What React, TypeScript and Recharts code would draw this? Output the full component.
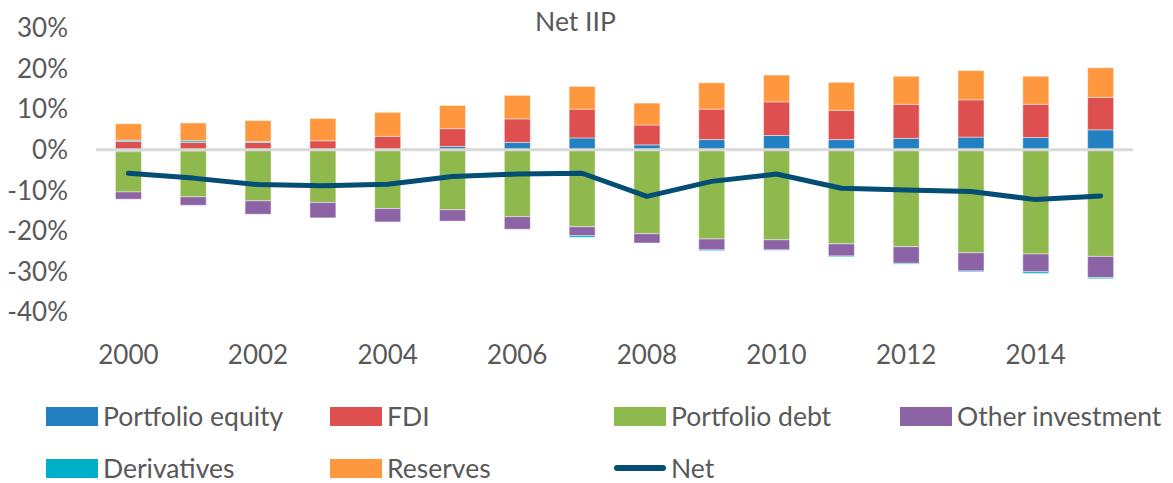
import { ComposedChart, Bar, Line, XAxis, YAxis, ReferenceLine } from "recharts";

const years = ["2000", "2001", "2002", "2003", "2004", "2005", "2006", "2007", "2008", "2009", "2010", "2011", "2012", "2013", "2014", "2015"];
const portfolioEquity = [-0.5, -0.3, 0, 0, 0, 0.8, 1.8, 2.9, 1.2, 2.5, 3.5, 2.5, 2.8, 3.1, 3.0, 4.9];
const fdi = [2.05, 1.8, 1.8, 2.2, 3.3, 4.4, 5.8, 7.1, 4.9, 7.5, 8.3, 7.2, 8.4, 9.2, 8.2, 8.0];
const portfolioDebt = [-9.9, -11.3, -12.6, -13.0, -14.5, -14.8, -16.5, -19.0, -20.7, -22.0, -22.2, -23.2, -23.9, -25.4, -25.7, -26.3];
const otherInvestment = [-1.8, -2.1, -3.3, -3.8, -3.3, -2.8, -3.1, -2.2, -2.3, -2.7, -2.5, -3.0, -4.1, -4.5, -4.4, -5.2];
const derivatives = [0.3, 0.4, 0.2, 0, 0, 0, 0, -0.4, 0, -0.2, -0.1, -0.2, -0.2, -0.2, -0.4, -0.3];
const reserves = [4.05, 4.4, 5.2, 5.5, 5.9, 5.7, 5.8, 5.6, 5.4, 6.5, 6.6, 6.9, 6.9, 7.2, 6.9, 7.3];
const net = [-5.8, -7.0, -8.6, -8.9, -8.5, -6.6, -6.0, -5.8, -11.5, -7.8, -6.0, -9.5, -9.9, -10.3, -12.3, -11.4];
const yTicks = [-40, -30, -20, -10, 0, 10, 20, 30];

const data = years.map((year, i) => ({
  year,
  equity: portfolioEquity[i],
  fdi: fdi[i],
  debt: portfolioDebt[i],
  other: otherInvestment[i],
  deriv: derivatives[i],
  reserves: reserves[i],
  net: net[i],
}));

const FONT = "Lato, 'Open Sans', sans-serif";
const TEXT = "#595959";

const legendItems = [
  { name: "Portfolio equity", color: "#2381c2", type: "box" },
  { name: "FDI", color: "#de4f4f", type: "box" },
  { name: "Portfolio debt", color: "#8fb94c", type: "box" },
  { name: "Other investment", color: "#8c64a6", type: "box" },
  { name: "Derivatives", color: "#00afc8", type: "box" },
  { name: "Reserves", color: "#fe973d", type: "box" },
  { name: "Net", color: "#044d74", type: "line" },
];

const LegendBlock = () => (
  <div style={{ position: "absolute", left: 0, top: 396, width: 1173, height: 90, fontFamily: FONT, fontSize: 26.5, color: TEXT }}>
    {legendItems.map((item, i) => {
      const col = i % 4;
      const row = Math.floor(i / 4);
      const lefts = [46, 330, 614, 900];
      return (
        <div
          key={item.name}
          style={{ position: "absolute", left: lefts[col], top: row * 52, height: 40, display: "flex", alignItems: "center", whiteSpace: "nowrap" }}
        >
          {item.type === "box" ? (
            <span style={{ display: "inline-block", width: 52, height: 19, background: item.color, marginRight: 5 }} />
          ) : (
            <span style={{ display: "inline-block", width: 52, height: 6, borderRadius: 3, background: item.color, marginRight: 5 }} />
          )}
          <span>{item.name}</span>
        </div>
      );
    })}
  </div>
);

const barStroke = { stroke: "#ffffff", strokeOpacity: 0.45, strokeWidth: 1 };

export default function App() {
  return (
    <div style={{ position: "absolute", left: 0, top: 0, width: 1173, height: 483, background: "#fff" }}>
      <div style={{ position: "absolute", left: -11, top: 5, width: 1173, textAlign: "center", fontFamily: FONT, fontSize: 26.5, color: TEXT, zIndex: 2 }}>
        Net IIP
      </div>
      <ComposedChart
        width={1173}
        height={483}
        data={data}
        stackOffset="sign"
        barCategoryGap="30%"
        margin={{ top: 28, right: 40, bottom: 131, left: 0 }}
      >
        <XAxis
          dataKey="year"
          axisLine={false}
          tickLine={false}
          tickSize={0}
          tickMargin={34}
          interval={1}
          height={40}
          tick={{ fill: TEXT, fontSize: 26, fontFamily: FONT }}
        />
        <YAxis
          domain={[-40, 30]}
          ticks={yTicks}
          interval={0}
          axisLine={false}
          tickLine={false}
          tickSize={0}
          tickMargin={28}
          width={96}
          tickFormatter={(v: number) => `${v}%`}
          tick={{ fill: TEXT, fontSize: 26, fontFamily: FONT }}
        />
        <ReferenceLine y={0} stroke="#d9d9d9" strokeWidth={3} />
        <Bar dataKey="equity" name="Portfolio equity" stackId="a" fill="#2381c2" {...barStroke} isAnimationActive={false} />
        <Bar dataKey="fdi" name="FDI" stackId="a" fill="#de4f4f" {...barStroke} isAnimationActive={false} />
        <Bar dataKey="debt" name="Portfolio debt" stackId="a" fill="#8fb94c" {...barStroke} isAnimationActive={false} />
        <Bar dataKey="other" name="Other investment" stackId="a" fill="#8c64a6" {...barStroke} isAnimationActive={false} />
        <Bar dataKey="deriv" name="Derivatives" stackId="a" fill="#00afc8" {...barStroke} isAnimationActive={false} />
        <Bar dataKey="reserves" name="Reserves" stackId="a" fill="#fe973d" {...barStroke} isAnimationActive={false} />
        <Line
          dataKey="net"
          name="Net"
          type="linear"
          stroke="#044d74"
          strokeWidth={5}
          strokeLinecap="round"
          strokeLinejoin="round"
          dot={false}
          activeDot={false}
          isAnimationActive={false}
        />
      </ComposedChart>
      <LegendBlock />
    </div>
  );
}
